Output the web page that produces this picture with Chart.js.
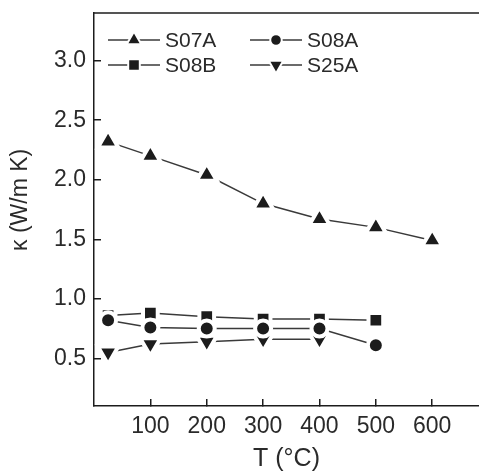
<!DOCTYPE html>
<html>
<head>
<meta charset="utf-8">
<script src="https://cdn.jsdelivr.net/npm/chart.js@4"></script>
<style>
  html, body { margin: 0; padding: 0; background: #fff; overflow: hidden; }
  canvas { display: block; }
</style>
</head>
<body>
<canvas id="kappa-chart" width="479" height="472"></canvas>
<script>
// thermal conductivity vs temperature
const temps = [25, 100, 200, 300, 400, 500, 600];
const seriesNames = ["S07A", "S08A", "S08B", "S25A"];
const s07a = [2.32, 2.20, 2.04, 1.80, 1.67, 1.60, 1.49];
const s08a = [0.82, 0.76, 0.75, 0.75, 0.75, 0.61];
const s08b = [0.86, 0.88, 0.85, 0.83, 0.83, 0.82];
const s25a = [0.55, 0.62, 0.64, 0.66, 0.66];
const xTicks = [100, 200, 300, 400, 500, 600];
const yTicks = [0.5, 1.0, 1.5, 2.0, 2.5, 3.0];

const ink = "#1c1c1c";
const lineInk = "#3a3a3a";
const textInk = "#2a2a2a";

Chart.defaults.font.family = "'Liberation Sans', Arial, sans-serif";
Chart.defaults.color = textInk;

function toPoints(values) {
  return values.map((v, i) => ({x: temps[i], y: v}));
}

// marker shapes: plot size and legend size
const marks = [
  {style: "triangle", rotation: 0, r: 11.8, lr: 8.4},
  {style: "circle", rotation: 0, r: 8, lr: 5.8},
  {style: "rect", rotation: 0, r: 10.4, lr: 8.2},
  {style: "triangle", rotation: 180, r: 11.8, lr: 8.4}
];

function makeSet(i, values) {
  return {
    label: seriesNames[i],
    data: toPoints(values),
    borderColor: lineInk,
    borderWidth: 1.5,
    pointStyle: marks[i].style,
    rotation: marks[i].rotation,
    pointRadius: marks[i].r,
    pointBackgroundColor: ink,
    pointBorderColor: "#fff",
    pointBorderWidth: 4,
    fill: false,
    tension: 0
  };
}

// keep the plot box fixed, no extra room for edge labels
function noEdgePadding(s) {
  s.paddingTop = 0;
  s.paddingBottom = 0;
  s.paddingLeft = 0;
  s.paddingRight = 0;
}

// top edge of the box and the legend inside the plot
const frameAndLegend = {
  id: "frameAndLegend",
  afterDraw(chart) {
    const {ctx, chartArea} = chart;
    ctx.save();
    ctx.strokeStyle = ink;
    ctx.lineWidth = 1.5;
    ctx.beginPath();
    ctx.moveTo(chartArea.left, chartArea.top);
    ctx.lineTo(chartArea.right, chartArea.top);
    ctx.stroke();

    const x0 = chartArea.left + 14;
    const y0 = chartArea.top + 27;
    chart.data.datasets.forEach((ds, i) => {
      const x = x0 + (i % 2) * 142;
      const y = y0 + Math.floor(i / 2) * 25;
      ctx.strokeStyle = lineInk;
      ctx.lineWidth = 1.4;
      ctx.beginPath();
      ctx.moveTo(x, y);
      ctx.lineTo(x + 52, y);
      ctx.stroke();
      ctx.fillStyle = ink;
      ctx.strokeStyle = "#fff";
      ctx.lineWidth = 2;
      Chart.helpers.drawPoint(ctx, {
        pointStyle: marks[i].style,
        rotation: marks[i].rotation,
        radius: marks[i].lr,
        borderWidth: 2
      }, x + 26, y);
      ctx.fillStyle = textInk;
      ctx.font = "21px 'Liberation Sans', Arial, sans-serif";
      ctx.textAlign = "left";
      ctx.textBaseline = "middle";
      ctx.fillText(ds.label, x + 57, y + 1);
    });
    ctx.restore();
  }
};

new Chart(document.getElementById("kappa-chart"), {
  type: "line",
  data: {
    datasets: [
      makeSet(0, s07a),
      makeSet(1, s08a),
      makeSet(2, s08b),
      makeSet(3, s25a)
    ]
  },
  options: {
    responsive: false,
    animation: false,
    devicePixelRatio: 1,
    layout: {autoPadding: false, padding: {top: 13, right: 0, bottom: 0, left: 0}},
    plugins: {
      legend: {display: false},
      tooltip: {enabled: false}
    },
    scales: {
      x: {
        type: "linear",
        min: 0,
        max: 683,
        afterBuildTicks: s => { s.ticks = xTicks.map(v => ({value: v})); },
        afterFit: s => { s.height = 66; noEdgePadding(s); },
        border: {color: ink, width: 1.5},
        grid: {drawOnChartArea: false, color: ink, lineWidth: 1.5, tickLength: -7},
        ticks: {font: {size: 23}, padding: 14, color: textInk, maxRotation: 0},
        title: {
          display: true,
          text: "T (°C)",
          font: {size: 25, lineHeight: 1},
          padding: {top: 0, bottom: 0},
          color: textInk
        }
      },
      y: {
        min: 0.1,
        max: 3.4,
        afterBuildTicks: s => { s.ticks = yTicks.map(v => ({value: v})); },
        afterFit: s => { s.width = 94; noEdgePadding(s); },
        border: {color: ink, width: 1.5},
        grid: {drawOnChartArea: false, color: ink, lineWidth: 1.5, tickLength: -7},
        ticks: {
          font: {size: 23},
          padding: 15,
          color: textInk,
          callback: v => v.toFixed(1)
        },
        title: {
          display: true,
          text: "   κ (W/m K)",
          font: {size: 23, lineHeight: 1},
          padding: {top: 9, bottom: 0},
          color: textInk
        }
      }
    }
  },
  plugins: [frameAndLegend]
});
</script>
</body>
</html>
